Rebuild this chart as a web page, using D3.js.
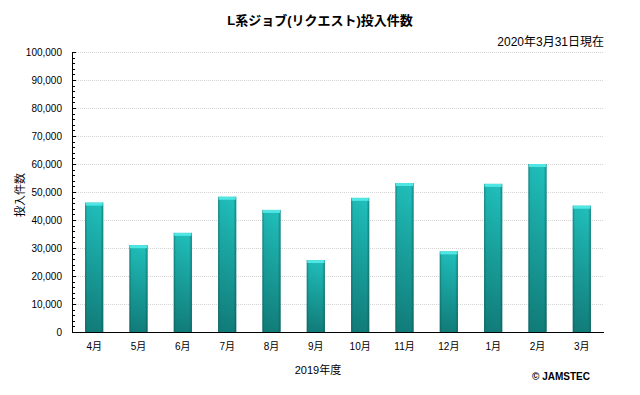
<!DOCTYPE html>
<html>
<head>
<meta charset="utf-8">
<script src="https://cdn.jsdelivr.net/npm/d3@7"></script>
<style>
  body { margin: 0; background: #fff; }
  text { font-family: "Liberation Sans", "Noto Sans CJK JP", sans-serif; fill: #000; }
</style>
</head>
<body>
<svg width="640" height="395"></svg>
<script>
// data
var months = ['4月', '5月', '6月', '7月', '8月', '9月', '10月', '11月', '12月', '1月', '2月', '3月'];
var jobs = [46200, 31000, 35400, 48300, 43600, 25700, 47900, 53200, 28800, 52900, 60000, 45100];
var yTicks = [0, 10000, 20000, 30000, 40000, 50000, 60000, 70000, 80000, 90000, 100000];

var svg = d3.select('svg');
var padding = { t: 52, r: 36, b: 63, l: 72 };
var chartWidth = 640 - padding.l - padding.r;
var chartHeight = 395 - padding.t - padding.b;

var x = d3.scaleBand().domain(months).range([0, chartWidth]).paddingInner(0.59).paddingOuter(0.295);
var y = d3.scaleLinear().domain([0, 100000]).range([chartHeight, 0]);

// gradients for the bars
var defs = svg.append('defs');
var vg = defs.append('linearGradient').attr('id', 'barV').attr('x1', 0).attr('y1', 0).attr('x2', 0).attr('y2', 1);
vg.append('stop').attr('offset', '0%').attr('stop-color', '#20c0bc');
vg.append('stop').attr('offset', '100%').attr('stop-color', '#117d7a');
var hg = defs.append('linearGradient').attr('id', 'barH').attr('x1', 0).attr('y1', 0).attr('x2', 1).attr('y2', 0);
hg.append('stop').attr('offset', '0%').attr('stop-color', '#0a4a48').attr('stop-opacity', 0.5);
hg.append('stop').attr('offset', '12%').attr('stop-color', '#0a4a48').attr('stop-opacity', 0.05);
hg.append('stop').attr('offset', '85%').attr('stop-color', '#0a4a48').attr('stop-opacity', 0.0);
hg.append('stop').attr('offset', '100%').attr('stop-color', '#0a4a48').attr('stop-opacity', 0.5);

var chartG = svg.append('g').attr('transform', 'translate(' + padding.l + ',' + padding.t + ')');

// grid lines
chartG.selectAll('.grid').data(yTicks.slice(1))
  .enter().append('line')
  .attr('x1', 0).attr('x2', chartWidth)
  .attr('y1', d => y(d) + 0.5).attr('y2', d => y(d) + 0.5)
  .attr('stroke', '#d4d4d4').attr('stroke-dasharray', '1,1');

// bars
var bars = chartG.selectAll('.bar').data(jobs).enter().append('g').attr('class', 'bar');
bars.append('rect')
  .attr('x', (d, i) => x(months[i])).attr('y', d => y(d))
  .attr('width', x.bandwidth()).attr('height', d => chartHeight - y(d))
  .attr('fill', 'url(#barV)');
bars.append('rect')
  .attr('x', (d, i) => x(months[i])).attr('y', d => y(d))
  .attr('width', x.bandwidth()).attr('height', d => chartHeight - y(d))
  .attr('fill', 'url(#barH)');
bars.append('rect')
  .attr('x', (d, i) => x(months[i]) + 0.5).attr('y', d => y(d))
  .attr('width', x.bandwidth() - 1).attr('height', 3)
  .attr('fill', '#4fe6e4');

// y axis
var yAxis = d3.axisLeft(y).tickValues(yTicks).tickFormat(d3.format(',')).tickSize(0).tickPadding(10);
var yG = chartG.append('g').call(yAxis);
yG.select('.domain').remove();
yG.selectAll('text').style('font-size', '10px');
var minor = d3.range(0, 100001, 2000);
chartG.selectAll('.minor').data(minor).enter().append('line')
  .attr('x1', 0).attr('x2', d => d % 10000 === 0 ? 4 : 3)
  .attr('y1', d => Math.round(y(d)) + 0.5).attr('y2', d => Math.round(y(d)) + 0.5)
  .attr('stroke', '#000');
chartG.append('line').attr('x1', 0.5).attr('x2', 0.5).attr('y1', 0).attr('y2', chartHeight).attr('stroke', '#000');

// x axis
var xAxis = d3.axisBottom(x).tickSize(0).tickPadding(11);
var xG = chartG.append('g').attr('transform', 'translate(0,' + chartHeight + ')').call(xAxis);
xG.select('.domain').remove();
xG.selectAll('text').style('font-size', '10px');
chartG.append('line').attr('x1', 0).attr('x2', chartWidth).attr('y1', chartHeight + 0.5).attr('y2', chartHeight + 0.5).attr('stroke', '#000');

// labels
svg.append('text').attr('x', 320).attr('y', 25).attr('text-anchor', 'middle')
  .style('font-size', '13px').style('font-weight', 'bold').text('L系ジョブ(リクエスト)投入件数');
svg.append('text').attr('x', 604).attr('y', 46).attr('text-anchor', 'end')
  .style('font-size', '12px').text('2020年3月31日現在');
svg.append('text').attr('transform', 'translate(24,195) rotate(-90)').attr('text-anchor', 'middle')
  .style('font-size', '11px').text('投入件数');
svg.append('text').attr('x', 318).attr('y', 374).attr('text-anchor', 'middle')
  .style('font-size', '11px').text('2019年度');
svg.append('text').attr('x', 561).attr('y', 380).attr('text-anchor', 'middle')
  .style('font-size', '10px').style('font-weight', 'bold').text('© JAMSTEC');
</script>
</body>
</html>
